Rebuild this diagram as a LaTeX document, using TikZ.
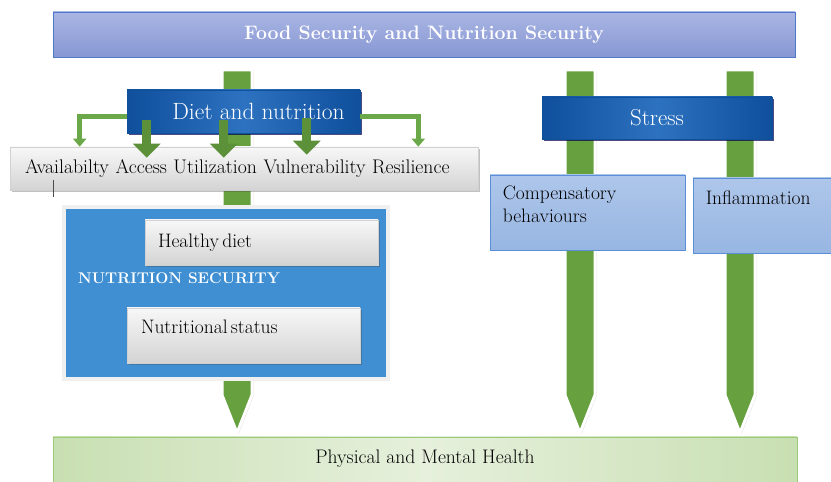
\documentclass[tikz,border=0pt]{standalone}
\usetikzlibrary{arrows.meta,shadows,calc}
\definecolor{bannertop}{HTML}{A9B5E3}
\definecolor{bannerbot}{HTML}{8797D3}
\definecolor{bannerline}{HTML}{4F78C9}
\definecolor{dietdark}{HTML}{0F4F9C}
\definecolor{dietlight}{HTML}{2D72C0}
\definecolor{nsblue}{HTML}{3F8FD2}
\definecolor{lbluetop}{HTML}{AEC6EA}
\definecolor{lbluebot}{HTML}{97B6E2}
\definecolor{lblueline}{HTML}{5A8FD8}
\definecolor{arrowgreen}{HTML}{66A03F}
\definecolor{elbowgreen}{HTML}{6BA84A}
\definecolor{healthleft}{HTML}{C8DFB2}
\definecolor{healthmid}{HTML}{E6F0DC}
\definecolor{healthline}{HTML}{9BCB79}
\newcommand\fsz[1]{\fontsize{#1}{1.2\dimexpr #1pt\relax}\selectfont}
% broad green arrow: top centre, tip
\newcommand\greenarrow[2]{%
  \path[bigarrow] ($(#1)+(-15,0)$) -- ($(#1)+(15,0)$) -- ($(#2)+(15,38)$)
    -- (#2) -- ($(#2)+(-15,38)$) -- cycle;}
\begin{document}
\begin{tikzpicture}[x=1pt,y=1pt,
  bigarrow/.style={fill=arrowgreen, draw=white, line width=3pt, line join=miter,
    drop shadow={shadow xshift=1.5pt, shadow yshift=-1pt, opacity=.3, fill=black!60}},
  banner/.style={draw=bannerline, line width=0.8pt, top color=bannertop, bottom color=bannerbot,
    text=white, font=\fsz{19.5}\bfseries, inner sep=0pt},
  darkbox/.style={draw=dietdark, line width=0.6pt, left color=dietdark, right color=dietdark,
    middle color=dietlight, text=white, inner sep=0pt,
    drop shadow={shadow xshift=1.5pt, shadow yshift=-2pt, opacity=.7, fill=black!70!blue}},
  graybox/.style={draw=black!18, line width=0.6pt, top color=white!97!black, bottom color=black!17,
    inner sep=0pt, align=left,
    drop shadow={shadow xshift=1.5pt, shadow yshift=-2pt, opacity=.35, fill=black!70}},
  lightblue/.style={draw=lblueline, line width=0.8pt, top color=lbluetop, bottom color=lbluebot,
    inner sep=0pt},
  fat/.style={draw=arrowgreen!90!black, line width=9pt,
    -{Triangle[width=27pt,length=14pt]}},
  elbow/.style={draw=elbowgreen, line width=4.5pt,
    -{Triangle[width=13pt,length=8pt]}},
]
\useasboundingbox (0,0) rectangle (831,482);

% the three long arrows down to health
\coordinate (dietTop) at (237,412);
\coordinate (dietTip) at (237,49);
\coordinate (compTop) at (580,412);
\coordinate (compTip) at (580,49);
\coordinate (inflTop) at (740,412);
\coordinate (inflTip) at (740,49);
\greenarrow{dietTop}{dietTip}
\greenarrow{compTop}{compTip}
\greenarrow{inflTop}{inflTip}

% top banner
\node[banner, minimum width=742pt, minimum height=45pt] (fs) at (424,447.5)
  {Food Security and Nutrition Security};

% diet side
\node[graybox, minimum width=468pt, minimum height=43pt, text width=438pt, inner xsep=15pt] (dims)
  at (244,313.5) {\fsz{19.7}Availabilty\, Access\, Utilization\, Vulnerability\, Resilience};
\coordinate (mark) at (53,302);
\draw[black!70, line width=0.7pt] (mark) -- ++(0,-17);

\node[darkbox, minimum width=233pt, minimum height=43pt] (diet) at (243.5,370.5)
  {\fsz{23.5}\hspace*{30pt}Diet and nutrition};

\node[draw=white!94!black, line width=4pt, fill=nsblue, minimum width=324pt, minimum height=172pt,
  drop shadow={shadow xshift=1.5pt, shadow yshift=-2pt, opacity=.35, fill=black!70}] (ns)
  at (226,188.5) {};
\node[graybox, minimum width=233pt, minimum height=45pt, text width=207pt, inner xsep=13pt] (hd)
  at (261.5,239.5) {\fsz{19.5}Healthy diet};
\node[anchor=west, text=white, inner sep=0pt, font=\fsz{15.5}\bfseries] (nslabel) at (78,204)
  {NUTRITION SECURITY};
\node[graybox, minimum width=233pt, minimum height=55pt, text width=205pt, inner xsep=14pt,
  text depth=18pt] (nstat) at (243.5,146.5) {\fsz{19.5}Nutritional status};

% stress side
\node[darkbox, minimum width=230pt, minimum height=42pt] (stress) at (657,364)
  {\fsz{23}Stress};
\node[lightblue, minimum width=195pt, minimum height=75pt,
  label={[anchor=north west, inner sep=0pt, align=left, font=\fsz{19.5},
    xshift=13pt, yshift=-11pt]north west:Compensatory\\behaviours}] (comp)
  at (587.5,269.5) {};
\node[lightblue, minimum width=142pt, minimum height=75pt,
  label={[anchor=north west, inner sep=0pt, font=\fsz{19.5}, xshift=13pt, yshift=-13pt]north west:Inflammation}] (infl)
  at (764,266.5) {};

% health bar
\node[draw=healthline, line width=0.8pt, left color=healthleft, right color=healthleft,
  middle color=healthmid, minimum width=744pt, minimum height=48pt, inner sep=0pt,
  text depth=9pt] (health) at (425,21) {\fsz{19.6}Physical and Mental Health};

% arrows from diet and nutrition to the dimensions
\draw[elbow] ([yshift=-5pt]diet.west) -| ([xshift=70pt]dims.north west);
\draw[elbow] ([yshift=-5pt]diet.east) -| ([xshift=-60pt]dims.north east);
\draw[fat] ([shift={(20pt,13pt)}]diet.south west) -- ([shift={(137pt,-11pt)}]dims.north west);
\draw[fat] ([shift={(97pt,13pt)}]diet.south west) -- ([shift={(214pt,-11pt)}]dims.north west);
\draw[fat] ([shift={(180pt,15pt)}]diet.south west) -- ([shift={(297pt,-8pt)}]dims.north west);
\end{tikzpicture}
\end{document}
